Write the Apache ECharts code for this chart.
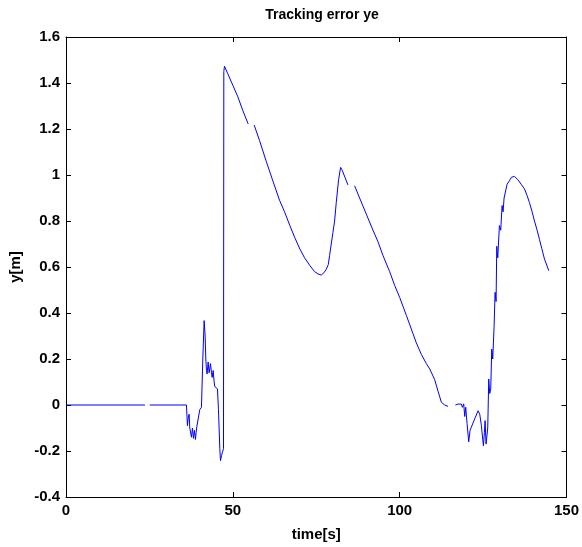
<!DOCTYPE html>
<html>
<head>
<meta charset="utf-8">
<script src="https://cdn.jsdelivr.net/npm/echarts@6/dist/echarts.min.js"></script>
<style>
  html, body { margin: 0; padding: 0; background: #fff; }
  #main { width: 582px; height: 547px; }
</style>
</head>
<body>
<div id="main"></div>
<script>
// time [s] and tracking error ye [m]; null = gap in the recorded line
var time = [
  0, 23.7, 24.4, 25.1, 36.1, 36.4, 36.6, 36.9, 37.1, 37.3, 37.6, 37.9, 38.2, 38.5, 38.8, 39.0, 39.2, 39.7,
  40.1, 40.6, 41.0, 41.4, 41.7, 41.9, 42.1, 42.3, 42.6, 42.9, 43.3, 43.6, 43.8, 44.1, 44.4, 44.6, 45.4,
  45.7, 46.1, 46.3, 46.6, 46.9, 47.2, 47.3, 47.5, 48.5, 50, 51.5, 53, 54.6, 55.5, 56.4, 58, 60, 62.1,
  64, 65.5, 67.1, 68.5, 70.1, 71.5, 73.1, 74.5, 75.5, 76.5, 77.3, 78, 78.6, 79, 79.5, 80, 80.5, 81,
  81.7, 82.3, 82.8, 83.6, 84.5, 85.5, 86.5, 88, 90, 92, 93.5, 95, 97, 98.5, 100, 102, 104, 105, 106.5,
  108, 109, 110.5, 111.5, 112.5, 113.5, 114.5, 115.6, 116.7, 117.5, 118.5, 118.8, 119.2, 119.5, 119.8,
  120.2, 120.7, 121.1, 121.5, 122.5, 123.5, 124, 124.5, 125.1, 125.4, 125.6, 125.9, 126.1, 126.4, 126.7,
  127.0, 127.3, 127.6, 127.9, 128.3, 128.6, 128.9, 129.1, 129.4, 129.9, 130.3, 130.7, 131.0, 131.3,
  131.7, 132.2, 132.9, 133.5, 134.4, 135.4, 136.4, 137.4, 138.2, 138.9, 139.7, 140.4, 141.2, 141.9,
  142.6, 143.4, 144.7
];
var ye = [
  0, 0, null, 0, 0, -0.09, -0.06, -0.04, -0.1, -0.104, -0.14, -0.1, -0.145, -0.11, -0.15, -0.12, -0.095, -0.09,
  -0.02, -0.01, 0.2, 0.367, 0.3, 0.2, 0.15, 0.135, 0.187, 0.14, 0.18, 0.14, 0.12, 0.15, 0.1, 0.08, 0.07,
  -0.02, -0.19, -0.242, -0.22, -0.205, -0.19, 1.45, 1.473, 1.44, 1.39, 1.34, 1.28, 1.222, null, 1.217, 1.15, 1.06, 0.97,
  0.89, 0.84, 0.78, 0.73, 0.678, 0.64, 0.606, 0.58, 0.57, 0.565, 0.575, 0.59, 0.61, 0.65, 0.7, 0.75, 0.8, 0.88,
  0.98, 1.033, 1.02, 0.99, 0.957, null, 0.953, 0.9, 0.83, 0.76, 0.71, 0.65, 0.58, 0.52, 0.468, 0.39, 0.31, 0.27, 0.22,
  0.18, 0.157, 0.11, 0.06, 0.012, 0.0, -0.006, null, 0, 0.004, 0.004, -0.01, 0.005, -0.05, -0.01,
  -0.08, -0.16, -0.11, -0.11, -0.06, -0.025, -0.04, -0.09, -0.177, -0.12, -0.068, -0.17, -0.17, -0.1, 0.113,
  0.05, 0.07, 0.243, 0.2, 0.34, 0.49, 0.45, 0.69, 0.64, 0.78, 0.76, 0.867, 0.84, 0.9,
  0.9, 0.96, 0.975, 0.99, 0.994, 0.98, 0.96, 0.94, 0.91, 0.88, 0.84, 0.80, 0.76, 0.72,
  0.68, 0.635, 0.584
];

var font = 'Liberation Sans, Arial, sans-serif';
var points = time.map(function (t, i) { return [t, ye[i] === null ? '-' : ye[i]]; });

var frameLine = { show: true, onZero: false, lineStyle: { color: '#000', width: 1 } };
var frameTick = { show: true, inside: true, length: 5, lineStyle: { color: '#000' } };
var labelStyle = { fontFamily: font, fontSize: 15, fontWeight: 'bold', color: '#000' };

var chart = echarts.init(document.getElementById('main'));
chart.setOption({
  animation: false,
  backgroundColor: '#fff',
  title: {
    text: 'Tracking error ye',
    left: 317, top: 3, textAlign: 'center',
    textStyle: { fontFamily: font, fontSize: 14, fontWeight: 'bold', color: '#000' }
  },
  grid: { left: 66, right: 14, top: 37, bottom: 49 },
  xAxis: [{
    type: 'value', min: 0, max: 150, interval: 50,
    name: 'time[s]', nameLocation: 'middle', nameGap: 30,
    nameTextStyle: labelStyle,
    axisLine: frameLine, axisTick: frameTick,
    axisLabel: Object.assign({ margin: 6 }, labelStyle),
    splitLine: { show: false }
  }, {
    type: 'value', min: 0, max: 150, interval: 50, position: 'top',
    axisLine: frameLine, axisTick: frameTick,
    axisLabel: { show: false }, splitLine: { show: false }
  }],
  yAxis: [{
    type: 'value', min: -0.4, max: 1.6, interval: 0.2, position: 'left',
    name: 'y[m]', nameLocation: 'middle', nameGap: 40,
    nameTextStyle: labelStyle,
    axisLine: frameLine, axisTick: frameTick,
    axisLabel: Object.assign({ margin: 6,
      formatter: function (v) { return String(Math.round(v * 10) / 10); } }, labelStyle),
    splitLine: { show: false }
  }, {
    type: 'value', min: -0.4, max: 1.6, interval: 0.2, position: 'right',
    axisLine: frameLine, axisTick: frameTick,
    axisLabel: { show: false }, splitLine: { show: false }
  }],
  series: [{
    type: 'line',
    data: points,
    showSymbol: false,
    connectNulls: false,
    lineStyle: { color: '#0000ff', width: 1 },
    itemStyle: { color: '#0000ff' }
  }]
});
</script>
</body>
</html>
